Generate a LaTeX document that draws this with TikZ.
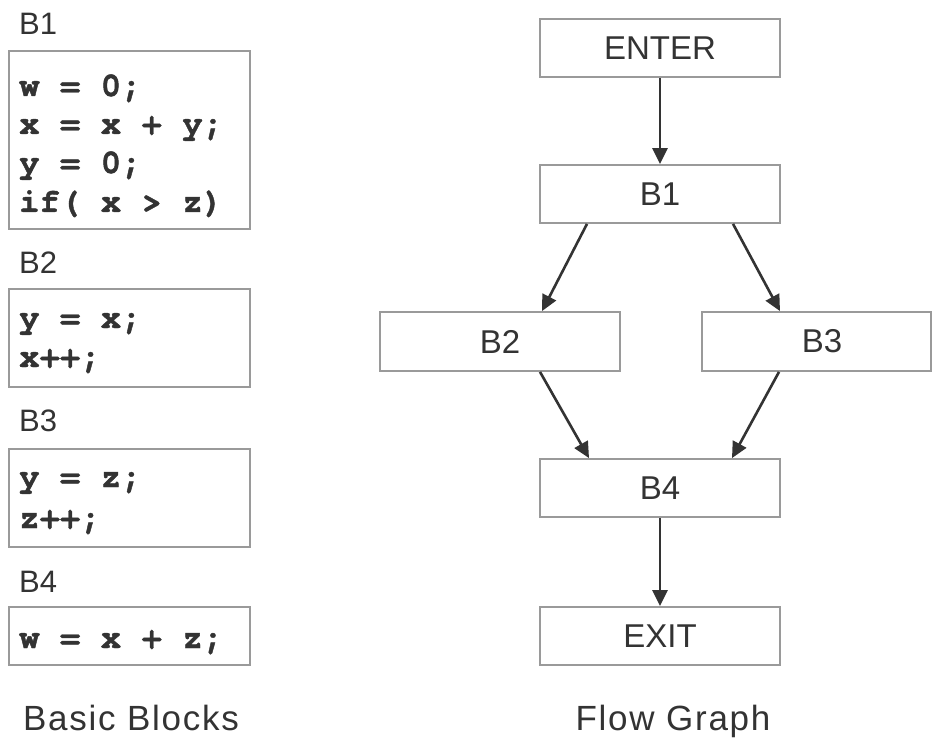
\documentclass[tikz,border=0pt]{standalone}
\usepackage{fontspec}
\usetikzlibrary{arrows.meta}
\newfontfamily\sansf{Liberation Sans}
\newfontfamily\capf{Liberation Sans}[LetterSpace=5]
\newfontfamily\codef{TeX Gyre Cursor}[BoldFeatures={FakeBold=1.2}]
\definecolor{txt}{HTML}{333333}
\definecolor{frame}{HTML}{9A9A9A}
\definecolor{arr}{HTML}{333333}
\tikzset{
  fbox/.style={draw=frame, line width=1.8pt, rectangle, minimum width=240pt, minimum height=58pt,
    inner sep=0pt, text=txt, font=\sansf\fontsize{33}{33}\selectfont},
  cbox/.style={draw=frame, line width=1.8pt, rectangle, minimum width=241pt, inner sep=0pt},
  codeline/.style={anchor=base west, inner sep=0pt, text=txt, font=\codef\bfseries\fontsize{34}{34}\selectfont},
  blabel/.style={anchor=base west, inner sep=0pt, text=txt, font=\sansf\fontsize{31}{31}\selectfont},
  caption/.style={anchor=base, inner sep=0pt, text=txt, font=\capf\fontsize{35}{35}\selectfont},
  flow/.style={draw=arr, line width=2.6pt, -{Triangle[length=16pt,width=15pt]}}
}
\begin{document}
\begin{tikzpicture}[x=1pt,y=-1pt]
\useasboundingbox[fill=white] (0,0) rectangle (932,738);

% Basic blocks (left)
\node[blabel] (lB1) at (19,35) {B1};
\node[cbox, minimum height=178pt] (cB1) at (129.5,140) {};
\node[codeline] (c11) at (19,96) {w = 0;};
\node[codeline] (c12) at (19,134) {x = x + y;};
\node[codeline] (c13) at (19,173) {y = 0;};
\node[codeline] (c14) at (19,212) {if( x > z)};

\node[blabel] (lB2) at (19,273) {B2};
\node[cbox, minimum height=98pt] (cB2) at (129.5,338) {};
\node[codeline] (c21) at (19,328) {y = x;};
\node[codeline] (c22) at (19,367) {x++;};

\node[blabel] (lB3) at (19,431) {B3};
\node[cbox, minimum height=98pt] (cB3) at (129.5,498) {};
\node[codeline] (c31) at (19,487) {y = z;};
\node[codeline] (c32) at (19,528) {z++;};

\node[blabel] (lB4) at (19,592) {B4};
\node[cbox, minimum height=58pt] (cB4) at (129.5,636) {};
\node[codeline] (c41) at (19,648) {w = x + z;};

\node[caption] (capL) at (131,730) {Basic Blocks};

% Flow graph (right)
\node[fbox] (enter) at (660,48) {ENTER};
\node[fbox] (b1) at (660,194) {B1};
\node[fbox, minimum height=59pt] (b2) at (500,341.5) {B2};
\node[fbox, minimum width=229pt, minimum height=59pt] (b3) at (816.5,341.5) {\hspace*{11pt}B3};
\node[fbox] (b4) at (660,488) {B4};
\node[fbox] (exit) at (660,636) {EXIT};

\node[caption] (capR) at (673,730) {Flow Graph};

\draw[flow] (enter.south) -- (b1.north);
\draw[flow] ([xshift=-73pt]b1.south) -- ([xshift=42pt]b2.north);
\draw[flow] ([xshift=73pt]b1.south) -- ([xshift=-36.5pt]b3.north);
\draw[flow] ([xshift=40pt]b2.south) -- ([xshift=-71pt]b4.north);
\draw[flow] ([xshift=-37.5pt]b3.south) -- ([xshift=72pt]b4.north);
\draw[flow] (b4.south) -- (exit.north);
\end{tikzpicture}
\end{document}
